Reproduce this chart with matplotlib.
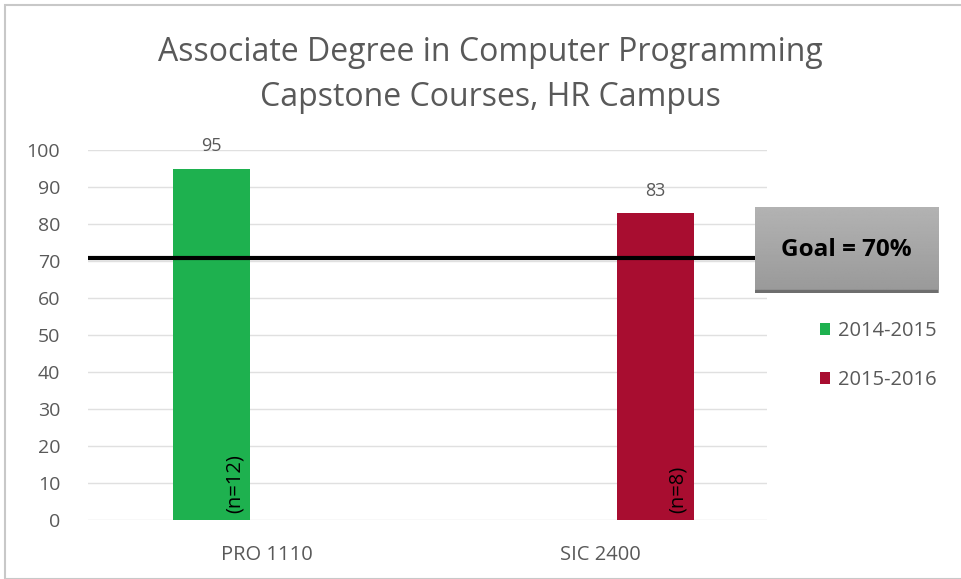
import matplotlib.pyplot as plt
import numpy as np
from matplotlib.patches import Rectangle

plt.rcParams['font.family'] = ['Open Sans', 'DejaVu Sans']

categories = ['PRO 1110', 'SIC 2400']
series_names = ['2014-2015', '2015-2016']
values_1415 = [95, None]
values_1516 = [None, 83]
n_labels = ['(n=12)', '(n=8)']
goal = 70
yticks = list(range(0, 101, 10))

green = '#1eb14f'
red = '#a80d30'
grey_text = '#595959'

f = plt.figure(figsize=(9.61, 5.79), dpi=100)
ax = f.add_axes([88 / 961, 1 - 520 / 579, (767 - 88) / 961, 370 / 579])

x = np.arange(len(categories))
w = 0.23
off = 0.165
for i, v in enumerate(values_1415):
    if v is not None:
        ax.bar(x[i] - off, v, w, color=green, zorder=2)
        ax.text(x[i] - off, v + 3.6, str(v), ha='center', va='bottom', fontsize=13, color=grey_text)
        ax.text(x[i] - off + w * 0.3, 2, n_labels[i], rotation=90, ha='center', va='bottom', fontsize=14.5, color='black')
for i, v in enumerate(values_1516):
    if v is not None:
        ax.bar(x[i] + off, v, w, color=red, zorder=2)
        ax.text(x[i] + off, v + 3.6, str(v), ha='center', va='bottom', fontsize=13, color=grey_text)
        ax.text(x[i] + off + w * 0.3, 2, n_labels[i], rotation=90, ha='center', va='bottom', fontsize=14.5, color='black')

ax.axhline(goal + 0.8, color='black', lw=3, zorder=3)

ax.set_xlim(-0.535, 1.5)
ax.set_ylim(0, 100)
ax.set_yticks(yticks)
ax.set_xticks(x)
ax.set_xticklabels(categories)
ax.grid(axis='y', color='#e0e0e0', lw=1, zorder=0)
for s in ax.spines.values():
    s.set_visible(False)
ax.tick_params(length=0, labelsize=14, colors=grey_text, pad=20)
ax.tick_params(axis='x', pad=18, labelsize=14.5)

# legend
ax.bar(0, 0, color=green, label=series_names[0])
ax.bar(0, 0, color=red, label=series_names[1])
leg = f.legend(loc='upper left', bbox_to_anchor=(802 / 961, 1 - 303 / 579), frameon=False,
               fontsize=14.5, handlelength=0.5, handleheight=0.5, labelspacing=1.45, handletextpad=0.4)
for t in leg.get_texts():
    t.set_color(grey_text)

f.text(490 / 961, 1 - 75 / 579, 'Associate Degree in Computer Programming\nCapstone Courses, HR Campus',
       ha='center', va='center', fontsize=23, color=grey_text, linespacing=1.45)

# goal box
bax = f.add_axes([755 / 961, 1 - 293 / 579, 183 / 961, 86 / 579])
grad = np.linspace(0.70, 0.60, 100).reshape(-1, 1)
bax.imshow(grad, aspect='auto', cmap='gray', vmin=0, vmax=1, extent=[0, 1, 0, 1])
bax.add_patch(Rectangle((0, 0), 1, 0.04, color='#6e6e6e'))
bax.text(0.5, 0.5, 'Goal = 70%', ha='center', va='center', fontsize=17.5, fontweight='bold', color='black')
bax.set_xlim(0, 1)
bax.set_ylim(0, 1)
bax.axis('off')

f.patches.append(Rectangle((5 / 961, 0), 1, 1 - 5 / 579, transform=f.transFigure,
                           fill=False, edgecolor='#c8c8c8', lw=1.5))

f.savefig('out.png', dpi=100)
